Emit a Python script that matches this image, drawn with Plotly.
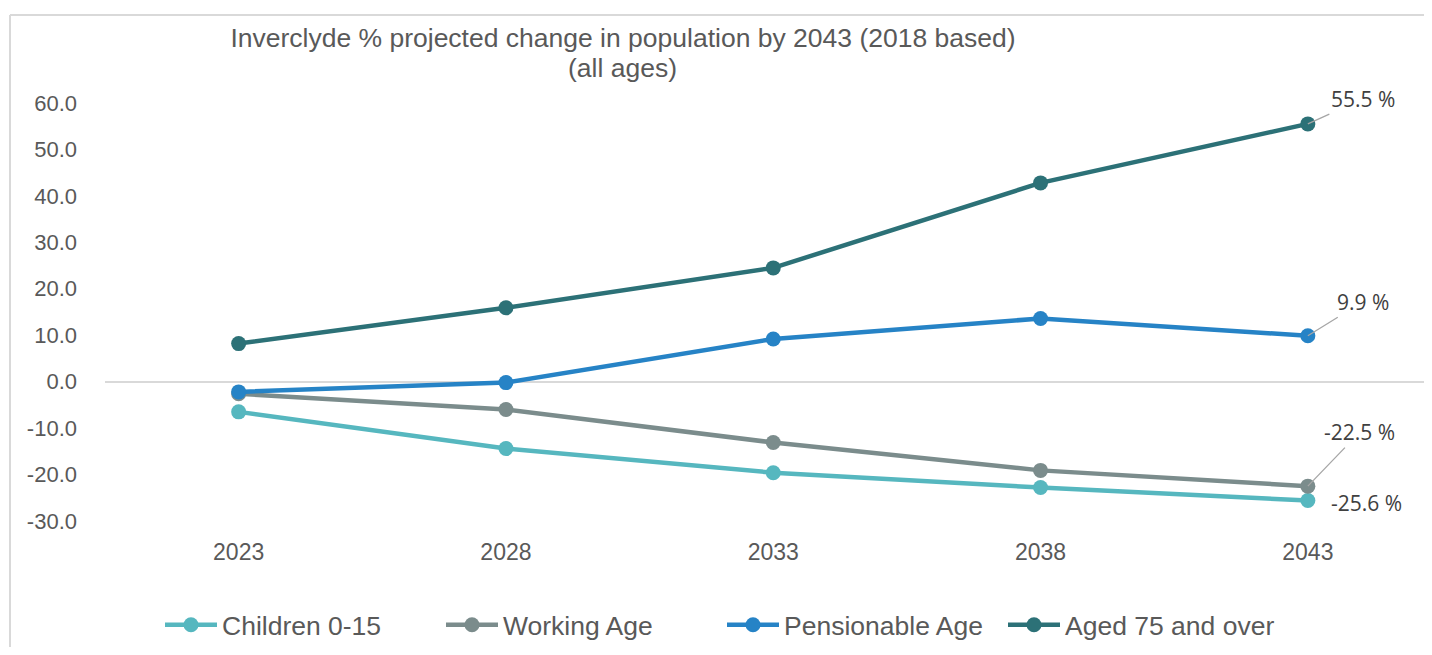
import plotly.graph_objects as go

years = ["2023", "2028", "2033", "2038", "2043"]
children = [-6.5, -14.4, -19.6, -22.8, -25.6]
working = [-2.6, -6.0, -13.1, -19.1, -22.5]
pensionable = [-2.2, -0.2, 9.2, 13.6, 9.9]
aged75 = [8.2, 15.9, 24.5, 42.8, 55.5]

series_names = ["Children 0-15", "Working Age", "Pensionable Age", "Aged 75 and over"]
series_values = [children, working, pensionable, aged75]
colors = ["#56B7BF", "#7B8C8C", "#2683C6", "#2C7177"]

title_line1 = "Inverclyde % projected change in population by 2043 (2018 based)"
title_line2 = "(all ages)"
ytick_vals = [60, 50, 40, 30, 20, 10, 0, -10, -20, -30]
ytick_text = [f"{v:.1f}" for v in ytick_vals]

# page body has an 8px margin; figure sized so no scrollbars appear
OFF = 8
W, H = 1432 - 2 * OFF, 655 - 2 * OFF
ML, MR, MT, MB = 105 - OFF, 0, 103 - OFF, H - (521 - OFF)
PW, PH = W - ML - MR, H - MT - MB
STEP = 267.3  # pixels per category
XR = [-0.5, -0.5 + PW / STEP]

def px_x(p):  # screen px -> paper x
    return (p - OFF - ML) / PW

def px_y(p):  # screen px -> paper y
    return (H - MB - (p - OFF)) / PH

fig = go.Figure()
for name, vals, col in zip(series_names, series_values, colors):
    fig.add_trace(go.Scatter(
        x=years, y=vals, name=name, mode="lines+markers",
        line=dict(color=col, width=4.5),
        marker=dict(color=col, size=15),
    ))

# data labels on the last point
last = len(years) - 1
label_specs = [
    (aged75, 55, -25, True),
    (pensionable, 55, -34, True),
    (working, 52, -54, True),
    (children, 59, 2, False),
]
lab_font = dict(family="Open Sans", size=21, color="#404040")
for vals, ax, ay, arrow in label_specs:
    txt = f"{vals[-1]:.1f} %"
    if arrow:
        fig.add_annotation(x=last, y=vals[-1], text=txt, showarrow=True,
                           ax=ax, ay=ay, arrowhead=0, arrowwidth=1.3, arrowcolor="#A6A6A6",
                           standoff=0, font=lab_font)
    else:
        fig.add_annotation(x=last, y=vals[-1], text=txt, showarrow=False,
                           xshift=ax, yshift=-ay, font=lab_font)

# second title line
fig.add_annotation(xref="paper", yref="paper", x=px_x(622), y=px_y(68),
                   xanchor="center", yanchor="middle", showarrow=False, text=title_line2,
                   font=dict(size=26.5, color="#595959"))

# chart border (top and left edges visible)
bx, by_top, by_bot = px_x(10), px_y(15), px_y(655)
fig.add_shape(type="line", xref="paper", yref="paper", x0=bx, x1=px_x(1440), y0=by_top, y1=by_top,
              line=dict(color="#D9D9D9", width=2))
fig.add_shape(type="line", xref="paper", yref="paper", x0=bx, x1=bx, y0=by_top, y1=by_bot,
              line=dict(color="#D9D9D9", width=2))

fig.update_layout(
    width=W, height=H,
    margin=dict(l=ML, r=MR, t=MT, b=MB, autoexpand=False),
    paper_bgcolor="white", plot_bgcolor="white",
    font=dict(family="Liberation Sans, Arial", color="#595959"),
    title=dict(text=title_line1, x=(623 - OFF) / W, xanchor="center", xref="container",
               y=1 - (38 - OFF) / H, yanchor="middle", yref="container",
               font=dict(size=26.5, color="#595959")),
    showlegend=True,
    legend=dict(orientation="h", x=(160 - OFF) / W, xanchor="left", xref="container",
                y=1 - (625 - OFF) / H, yanchor="middle", yref="container",
                font=dict(size=26.5, color="#595959"),
                itemwidth=52, traceorder="normal",
                entrywidth=214, entrywidthmode="pixels"),
    xaxis=dict(type="category", range=XR, showgrid=False, showline=False,
               zeroline=False, ticks="", tickfont=dict(size=23, color="#595959"),
               ticklabelstandoff=15),
    yaxis=dict(range=[-30, 60], tickvals=ytick_vals, ticktext=ytick_text, showgrid=False,
               showline=False, zeroline=True, zerolinecolor="#D9D9D9", zerolinewidth=2,
               ticks="", tickfont=dict(size=22, color="#595959"), ticklabelstandoff=27),
)

fig.write_html("out.html")
